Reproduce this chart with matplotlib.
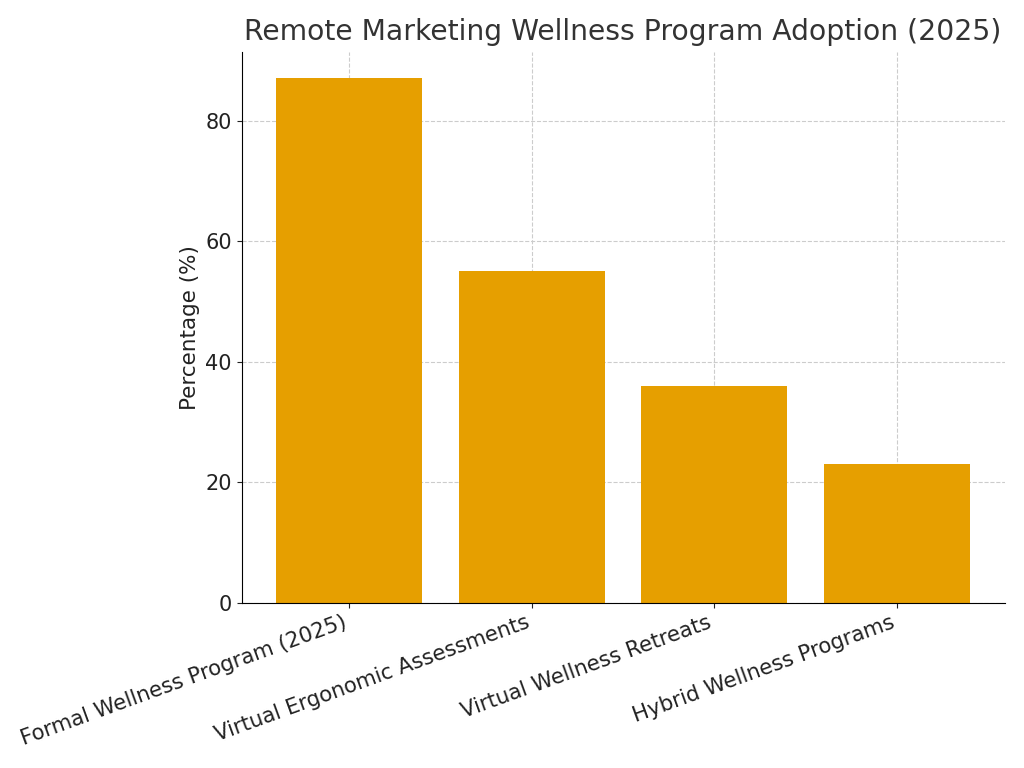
import matplotlib.pyplot as plt

programs = [
    "Formal Wellness Program (2025)",
    "Virtual Ergonomic Assessments",
    "Virtual Wellness Retreats",
    "Hybrid Wellness Programs",
]
percentages = [87, 55, 36, 23]

fig, ax = plt.subplots(figsize=(10.24, 7.68), dpi=100)
fig.subplots_adjust(left=0.236, right=0.981, bottom=0.215, top=0.932)

ax.bar(programs, percentages, color="#E69F00", width=0.8, zorder=2)

ax.set_title("Remote Marketing Wellness Program Adoption (2025)", fontsize=20.3, color="#333333", pad=9)
ax.set_ylabel("Percentage (%)", fontsize=15.5, color="#222222")
ax.tick_params(axis="both", labelsize=15, colors="#222222")
plt.setp(ax.get_xticklabels(), rotation=20, ha="right", fontsize=15.3)

ax.grid(True, linestyle="--", color="#cccccc", linewidth=0.8, zorder=0)
ax.spines["top"].set_visible(False)
ax.spines["right"].set_visible(False)

plt.savefig("out.png")
